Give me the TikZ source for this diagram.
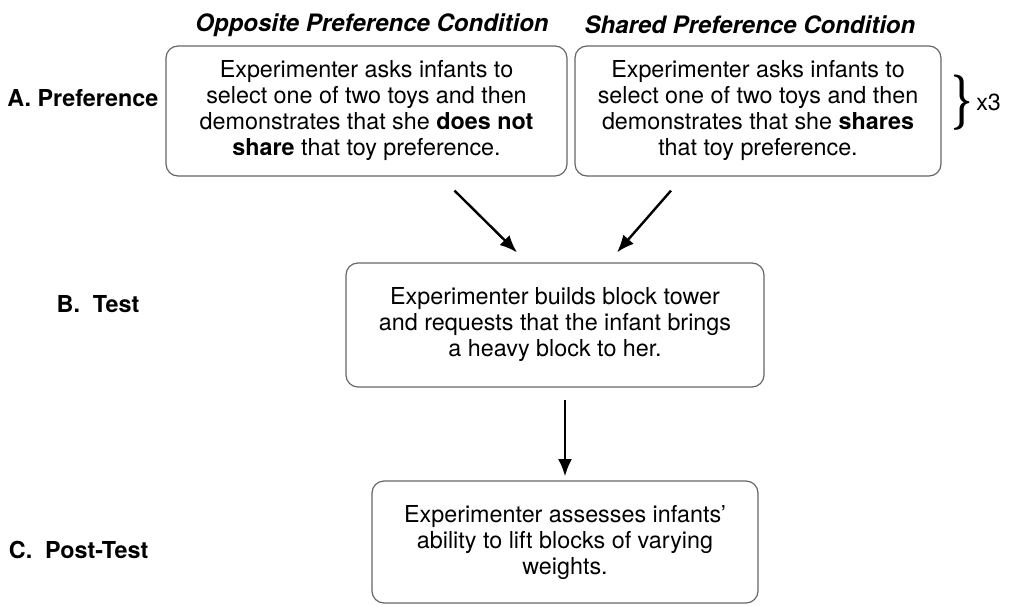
\documentclass[tikz,border=0pt]{standalone}
\usepackage{fontspec}
\setmainfont{TeX Gyre Heros}
\usetikzlibrary{arrows.meta}
\tikzset{
  card/.style={draw=black!60, line width=0.9pt, rounded corners=9pt, align=center, inner sep=0pt},
  flow/.style={-{Latex[length=13pt,width=10.5pt]}, line width=1.8pt},
  phase/.style={font=\fontsize{17.5}{19.5}\selectfont\bfseries},
  cond/.style={font=\fontsize{18}{19.5}\selectfont\bfseries\itshape}
}
\begin{document}
\begin{tikzpicture}[x=0.75pt,y=-0.75pt,font=\fontsize{17.5}{19.5}\selectfont]
        \useasboundingbox (0,0) rectangle (1010,606);

        \node[cond] (hdrOpp) at (372,25) {Opposite Preference Condition};
        \node[cond] (hdrShr) at (750,25) {Shared Preference Condition};

        \node[card, minimum width=300.75pt, minimum height=97.5pt] (opp) at (366.5,111)
            {Experimenter asks infants to\\ select one of two toys and then\\ demonstrates that she \textbf{does not}\\ \textbf{share} that toy preference.};
        \node[card, minimum width=274.5pt, minimum height=97.5pt] (shr) at (758,111)
            {Experimenter asks infants to\\ select one of two toys and then\\ demonstrates that she \textbf{shares}\\ that toy preference.};
        \node[card, minimum width=313.5pt, minimum height=93pt] (test) at (555,325)
            {Experimenter builds block tower\\ and requests that the infant brings\\ a heavy block to her.};
        \node[card, minimum width=289.5pt, minimum height=91.5pt] (post) at (565,542)
            {Experimenter assesses infants'\\ ability to lift blocks of varying\\ weights.};

        \node[phase, anchor=east] (lblA) at (163,98) {A. Preference};
        \node[phase] (lblB) at (98,304) {B.\ \ Test};
        \node[phase, anchor=east] (lblC) at (153,550) {C.\ \ Post-Test};

        \node[inner sep=0pt] (brace) at (962,103) {\scalebox{1.6}[2.4]{\boldmath$\}$}};
        \node[anchor=west, inner sep=0pt] (times) at (976,102) {x3};

        \draw[flow] ([xshift=66pt,yshift=-10.5pt]opp.south) -- ([xshift=-28.5pt,yshift=7.5pt]test.north);
        \draw[flow] ([xshift=-65.25pt,yshift=-10.5pt]shr.south) -- ([xshift=46.5pt,yshift=7.5pt]test.north);
        \draw[flow, shorten <=9pt, shorten >=3pt] (test.south -| post.north) -- (post.north);
    \end{tikzpicture}
\end{document}
